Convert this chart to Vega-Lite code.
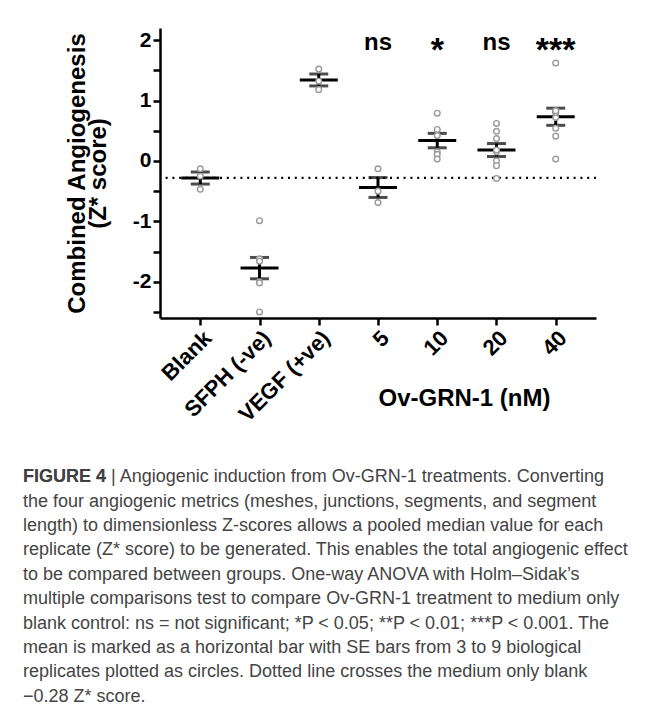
{
  "$schema": "https://vega.github.io/schema/vega-lite/v6.json",
  "width": 436,
  "height": 290,
  "padding": {"left": 23, "top": 28, "right": 5, "bottom": 5},
  "background": "white",
  "config": {
    "view": {"stroke": null},
    "font": "Liberation Sans",
    "axisX": {
      "labelAngle": -45,
      "labelAlign": "right",
      "labelBaseline": "top",
      "labelFont": "Liberation Sans",
      "labelFontSize": 22,
      "labelFontWeight": "bold",
      "labelColor": "black",
      "labelPadding": 2,
      "domainColor": "black",
      "domainWidth": 2.5,
      "tickColor": "black",
      "tickWidth": 2.5,
      "tickSize": 7,
      "titleFont": "Liberation Sans",
      "titleFontSize": 24,
      "titleFontWeight": "bold",
      "titleColor": "black",
      "titleAnchor": "start",
      "titleAlign": "right",
      "titleBaseline": "middle",
      "titleX": 390,
      "titleY": 80
    }
  },
  "title": {
    "text": "FIGURE 4",
    "subtitle": [
      "FIGURE 4 | Angiogenic induction from Ov-GRN-1 treatments. Converting",
      "the four angiogenic metrics (meshes, junctions, segments, and segment",
      "length) to dimensionless Z-scores allows a pooled median value for each",
      "replicate (Z* score) to be generated. This enables the total angiogenic effect",
      "to be compared between groups. One-way ANOVA with Holm–Sidak’s",
      "multiple comparisons test to compare Ov-GRN-1 treatment to medium only",
      "blank control: ns = not significant; *P < 0.05; **P < 0.01; ***P < 0.001. The",
      "mean is marked as a horizontal bar with SE bars from 3 to 9 biological",
      "replicates plotted as circles. Dotted line crosses the medium only blank",
      "−0.28 Z* score."
    ],
    "orient": "bottom",
    "anchor": "start",
    "frame": "group",
    "dx": -137,
    "offset": 43,
    "font": "Liberation Sans",
    "fontSize": 18,
    "fontWeight": "bold",
    "color": "#333333",
    "subtitleFont": "Liberation Sans",
    "subtitleFontSize": 18,
    "subtitleFontWeight": "normal",
    "subtitleColor": "#444444",
    "subtitleLineHeight": 24.4,
    "subtitlePadding": -18
  },
  "datasets": {
    "points": [
      {"group": "Blank", "z": -0.13},
      {"group": "Blank", "z": -0.25},
      {"group": "Blank", "z": -0.47},
      {"group": "SFPH (-ve)", "z": -0.99},
      {"group": "SFPH (-ve)", "z": -1.63},
      {"group": "SFPH (-ve)", "z": -1.62},
      {"group": "SFPH (-ve)", "z": -1.66},
      {"group": "SFPH (-ve)", "z": -2.0},
      {"group": "SFPH (-ve)", "z": -2.02},
      {"group": "SFPH (-ve)", "z": -2.5},
      {"group": "VEGF (+ve)", "z": 1.52},
      {"group": "VEGF (+ve)", "z": 1.32},
      {"group": "VEGF (+ve)", "z": 1.18},
      {"group": "5", "z": -0.13},
      {"group": "5", "z": -0.5},
      {"group": "5", "z": -0.69},
      {"group": "10", "z": 0.79},
      {"group": "10", "z": 0.52},
      {"group": "10", "z": 0.42},
      {"group": "10", "z": 0.15},
      {"group": "10", "z": 0.11},
      {"group": "10", "z": 0.03},
      {"group": "20", "z": 0.62},
      {"group": "20", "z": 0.49},
      {"group": "20", "z": 0.37},
      {"group": "20", "z": 0.15},
      {"group": "20", "z": 0.18},
      {"group": "20", "z": 0.0},
      {"group": "20", "z": -0.08},
      {"group": "20", "z": -0.29},
      {"group": "40", "z": 1.62},
      {"group": "40", "z": 0.83},
      {"group": "40", "z": 0.8},
      {"group": "40", "z": 0.72},
      {"group": "40", "z": 0.8},
      {"group": "40", "z": 0.83},
      {"group": "40", "z": 0.54},
      {"group": "40", "z": 0.41},
      {"group": "40", "z": 0.03}
    ],
    "sig": [
      {"group": "5", "label": "ns"},
      {"group": "10", "label": "*"},
      {"group": "20", "label": "ns"},
      {"group": "40", "label": "***"}
    ],
    "blankline": [
      {"blank_mean": -0.28}
    ]
  },
  "encoding": {
    "y": {
      "type": "quantitative",
      "scale": {"domain": [-2.6, 2.2], "nice": false, "zero": false},
      "axis": {
        "values": [-2.5, -2, -1.5, -1, -0.5, 0, 0.5, 1, 1.5, 2],
        "labelExpr": "datum.value % 1 === 0 ? (datum.value < 0 ? '-' : '') + abs(datum.value) : ''",
        "labelOverlap": false,
        "grid": false,
        "title": ["Combined Angiogenesis", "(Z* score)"],
        "titleFont": "Liberation Sans",
        "titleFontSize": 24,
        "titleFontWeight": "bold",
        "titleColor": "black",
        "titleLineHeight": 21,
        "titlePadding": 22,
        "labelFont": "Liberation Sans",
        "labelFontSize": 21,
        "labelFontWeight": "bold",
        "labelColor": "black",
        "labelPadding": 2,
        "domainColor": "black",
        "domainWidth": 2.5,
        "tickColor": "black",
        "tickWidth": 2.5,
        "tickSize": 7
      }
    }
  },
  "layer": [
    {
      "data": {"name": "blankline"},
      "mark": {"type": "rule", "strokeDash": [2, 4.8], "strokeWidth": 2.2, "color": "black"},
      "encoding": {"y": {"field": "blank_mean", "type": "quantitative"}}
    },
    {
      "data": {"name": "points"},
      "mark": {"type": "errorbar", "extent": "stderr", "color": "black", "ticks": {"size": 19, "thickness": 3, "color": "black"}, "rule": {"strokeWidth": 3, "color": "black"}},
      "encoding": {
        "x": {
          "field": "group",
          "type": "nominal",
          "sort": null,
          "scale": {"type": "point", "domain": ["Blank", "SFPH (-ve)", "VEGF (+ve)", "5", "10", "20", "40"], "padding": 0.68},
          "axis": {"title": "Ov-GRN-1 (nM)"}
        },
        "y": {"field": "z", "type": "quantitative"}
      }
    },
    {
      "data": {"name": "points"},
      "mark": {"type": "tick", "size": 38, "thickness": 3, "color": "black"},
      "encoding": {
        "x": {"field": "group", "type": "nominal", "sort": null},
        "y": {"aggregate": "mean", "field": "z", "type": "quantitative"}
      }
    },
    {
      "data": {"name": "points"},
      "mark": {"type": "circle", "size": 32, "fill": "white", "fillOpacity": 1, "stroke": "#9a9a9a", "strokeWidth": 1.4},
      "encoding": {
        "x": {"field": "group", "type": "nominal", "sort": null},
        "y": {"field": "z", "type": "quantitative"}
      }
    },
    {
      "data": {"name": "sig"},
      "transform": [{"filter": "datum.label === 'ns'"}],
      "mark": {"type": "text", "font": "Liberation Sans", "fontSize": 24, "fontWeight": "bold", "color": "black", "baseline": "middle"},
      "encoding": {
        "x": {"field": "group", "type": "nominal", "sort": null},
        "y": {"datum": 1.95, "type": "quantitative"},
        "text": {"field": "label"}
      }
    },
    {
      "data": {"name": "sig"},
      "transform": [{"filter": "datum.label !== 'ns'"}],
      "mark": {"type": "text", "font": "Liberation Sans", "fontSize": 34, "fontWeight": "bold", "color": "black", "baseline": "middle", "dy": 8},
      "encoding": {
        "x": {"field": "group", "type": "nominal", "sort": null},
        "y": {"datum": 1.95, "type": "quantitative"},
        "text": {"field": "label"}
      }
    }
  ]
}
